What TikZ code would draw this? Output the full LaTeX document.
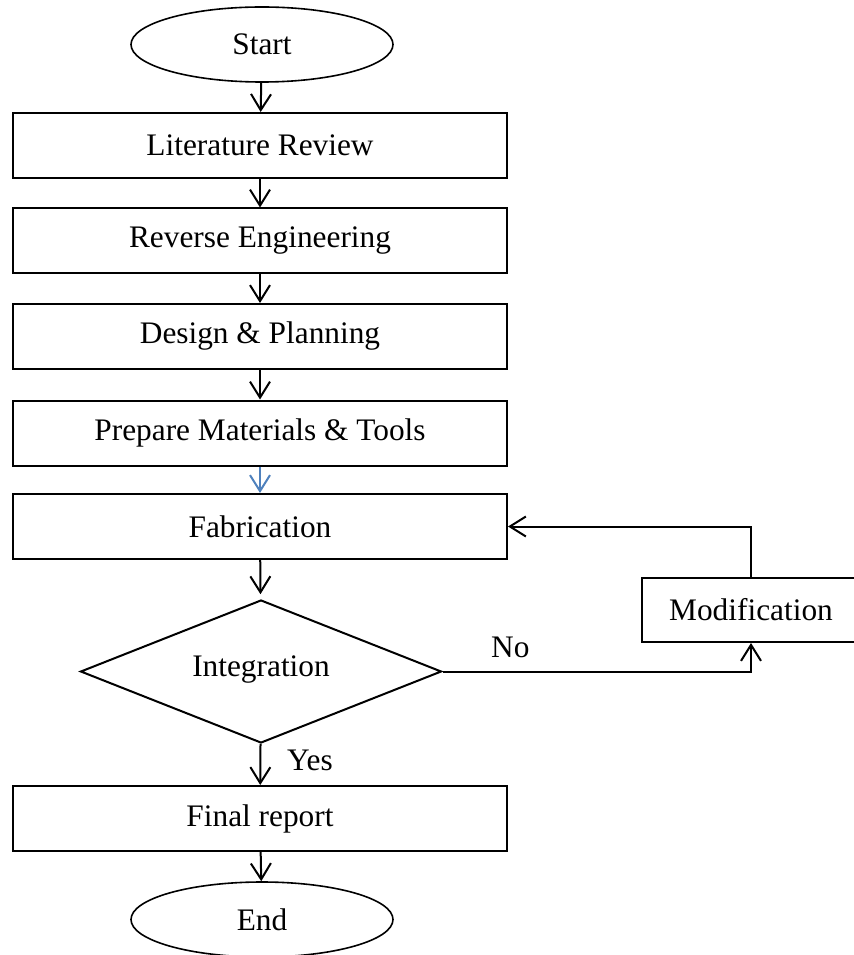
\documentclass[tikz,border=0pt]{standalone}
\usepackage{fontspec}
\setmainfont{Liberation Serif}
\usetikzlibrary{arrows.meta, shapes.geometric}
\definecolor{wdblue}{HTML}{4F81BD}

\tikzset{
  procbox/.style={draw, rectangle, line width=1.5pt, minimum width=370.5pt, minimum height=48.75pt, inner sep=0pt},
  termnode/.style={draw, ellipse, line width=1.2pt, minimum width=196.5pt, minimum height=56.25pt, inner sep=0pt},
  decisionnode/.style={draw, diamond, shape aspect=2.5, line width=1.5pt, minimum width=270.75pt, minimum height=107.25pt, inner sep=0pt},
  flowarrow/.style={line width=1.5pt, -{Straight Barb[length=12pt, width=15pt, line width=1.5pt]}},
}

\begin{document}
\begin{tikzpicture}[x=0.75pt, y=-0.75pt, font=\fontsize{23.5}{28}\selectfont]
\useasboundingbox (0,0) rectangle (853,955);

\node[termnode] (start) at (262,44.5) {Start};
\node[procbox] (litrev) at (260,145.5) {Literature Review};
\node[procbox] (reveng) at (260,241) {Reverse Engineering};
\node[procbox] (design) at (260,336.5) {Design \& Planning};
\node[procbox] (prepare) at (260,433) {Prepare Materials \& Tools};
\node[procbox] (fab) at (260,526.5) {Fabrication};
\node[decisionnode] (integ) at (261,671.5) {\raisebox{8pt}{Integration}};
\node[procbox] (final) at (260,818.5) {Final report};
\node[termnode] (finish) at (262,919.5) {End};
\node[procbox, minimum width=163.5pt, minimum height=48pt] (modif) at (751,610) {Modification};

\draw[flowarrow] (start) -- (litrev);
\draw[flowarrow] (litrev) -- (reveng);
\draw[flowarrow] (reveng) -- (design);
\draw[flowarrow] (design) -- (prepare);
\draw[flowarrow, wdblue] (prepare) -- (fab);
\draw[flowarrow, shorten >=3.75pt] (fab) -- (integ);
\draw[flowarrow] (integ) -- (final) node[pos=0.4, right=16pt] {Yes};
\draw[flowarrow] (final) -- (finish);

\draw[flowarrow] (integ.east) -| (modif.south) node[pos=0.11, above=6pt] {No};
\draw[flowarrow] (modif.north) |- (fab.east);

\end{tikzpicture}
\end{document}
